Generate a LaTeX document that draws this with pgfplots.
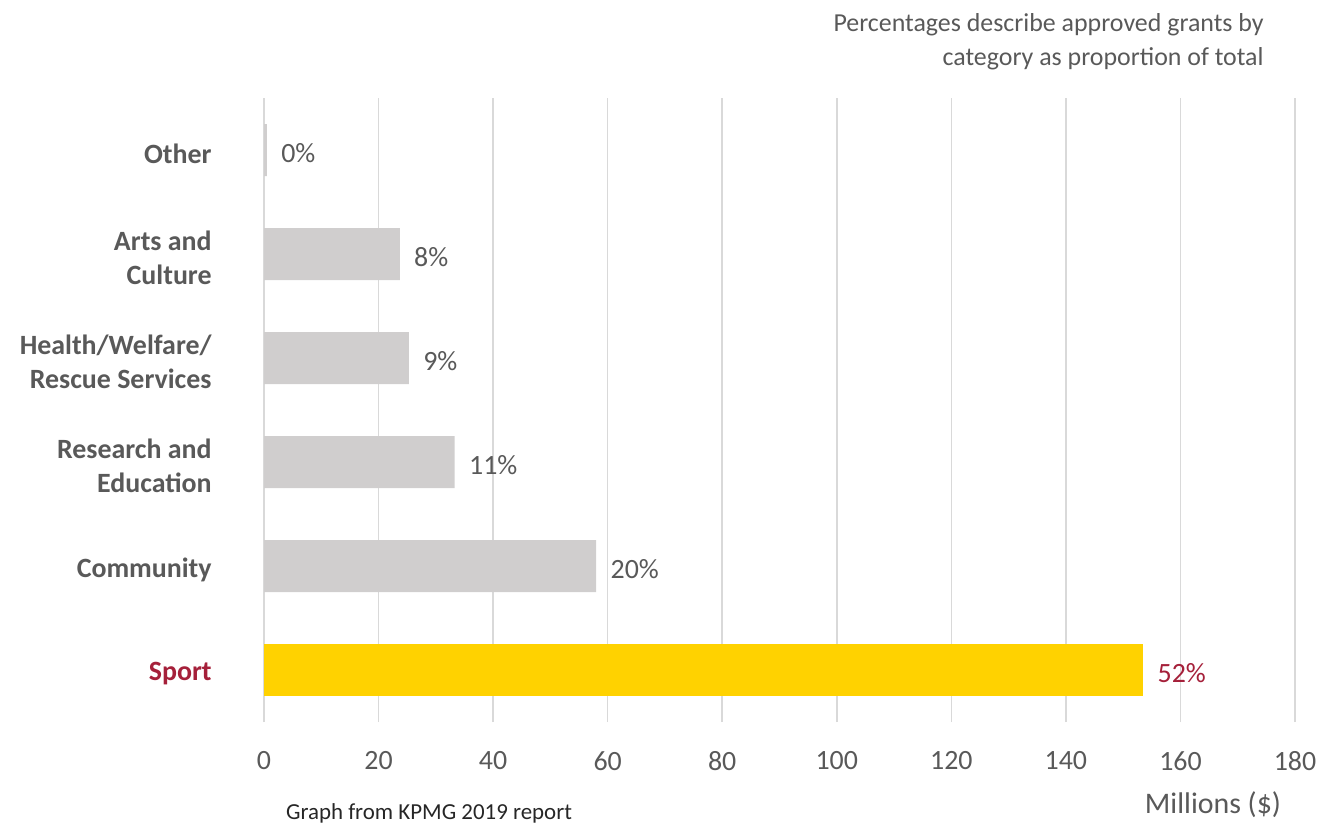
\documentclass[border=0pt]{standalone}
\usepackage{pgfplots}
\pgfplotsset{compat=1.18}
\usepackage{fontspec}
\setmainfont{Carlito}
\definecolor{txt}{HTML}{595959}
\definecolor{barg}{HTML}{D0CECE}
\definecolor{gold}{HTML}{FFD200}
\definecolor{sportred}{HTML}{A5203A}
\definecolor{gridc}{HTML}{D9D9D9}
\begin{document}
\begin{tikzpicture}[x=1bp,y=1bp]
\path[use as bounding box] (0,0) rectangle (660,411);
\begin{axis}[at={(132bp,50bp)}, anchor=south west, scale only axis,
  width=515.5bp, height=312bp,
  xmin=0, xmax=180, ymin=-0.5, ymax=5.5,
  xtick={0,20,...,180}, ytick={0,...,5},
  yticklabels={\textcolor{sportred}{Sport}, Community, {Research and\\Education}, {Health/Welfare/\\Rescue Services}, {Arts and\\Culture}, Other},
  axis line style={draw=none}, major tick length=0pt,
  xmajorgrids, grid style={gridc, line width=0.75bp},
  /pgf/number format/assume math mode=true,
  xticklabel style={font=\fontsize{14}{17}\selectfont, text=txt, anchor=center, inner sep=0pt, yshift=-19.5bp},
  yticklabel style={font=\fontsize{14}{17}\selectfont\bfseries, text=txt, align=right, anchor=east, inner sep=0pt, xshift=-26bp, yshift=-1.8bp},
  xbar, bar width=26bp,
  point meta=explicit symbolic, nodes near coords,
  nodes near coords style={anchor=west, inner sep=0pt, xshift=7bp, yshift=-1.5bp, font=\fontsize{14}{17}\selectfont, text=txt},
  clip=false,
]
\addplot[fill=barg, draw=none, bar shift=0pt] coordinates {
  (0.5,5) [0\%]
  (23.7,4) [8\%]
  (25.3,3) [9\%]
  (33.3,2) [11\%]
  (58.0,1) [20\%]
};
\addplot[fill=gold, draw=none, bar shift=0pt, nodes near coords style={text=sportred}] coordinates {
  (153.5,0) [52\%]
};
\end{axis}
\node[anchor=base east, text=txt, font=\fontsize{13}{16}\selectfont, inner sep=0pt] at (632,395) {Percentages describe approved grants by};
\node[anchor=base east, text=txt, font=\fontsize{13}{16}\selectfont, inner sep=0pt] at (632,378.5) {category as proportion of total};
\node[anchor=center, text=txt, font=\fontsize{15}{18}\selectfont, inner sep=0pt] at (606.5,8.5) {Millions (\$)};
\node[anchor=center, text=black!85, font=\fontsize{11.5}{14}\selectfont, inner sep=0pt] at (214.5,4.5) {Graph from KPMG 2019 report};
\end{tikzpicture}
\end{document}
